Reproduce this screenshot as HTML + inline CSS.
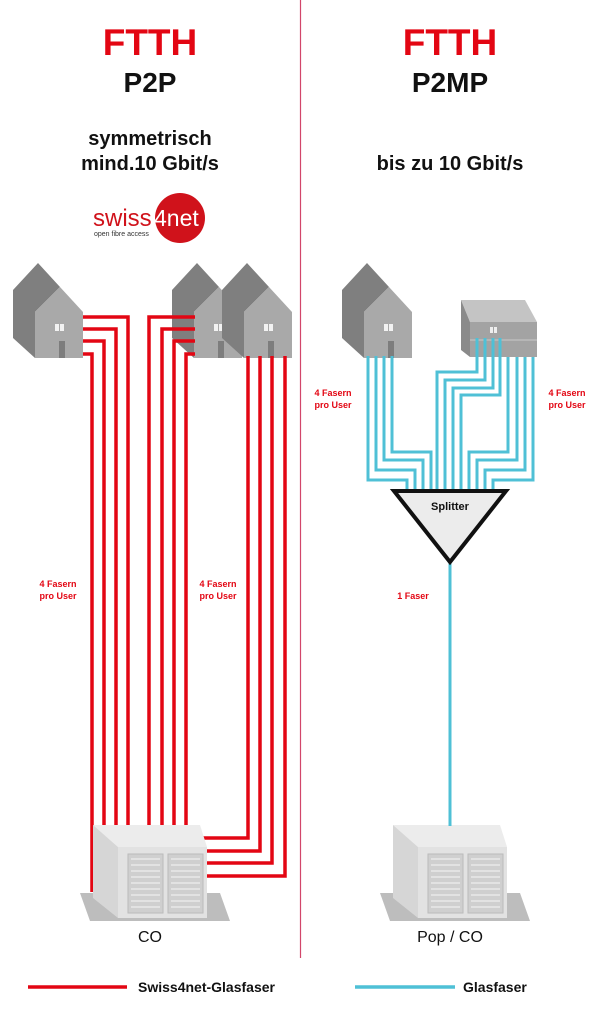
<!DOCTYPE html>
<html><head><meta charset="utf-8"><style>
html,body{margin:0;padding:0;background:#fff;}
svg{display:block;}
text{font-family:"Liberation Sans",sans-serif;}
</style></head><body>
<svg width="600" height="1012" viewBox="0 0 600 1012" xmlns="http://www.w3.org/2000/svg">
<defs>
<g id="house">
  <polygon points="0,28 25,1 47,25 22,50 22,96 0,76" fill="#7f7f7f"/>
  <polygon points="22,50 47,25 70,50 70,96 22,96" fill="#a9a9a9"/>
  <rect x="42" y="62" width="4" height="7" fill="#f2f2f2"/><rect x="47" y="62" width="4" height="7" fill="#f2f2f2"/>
  <rect x="46" y="79" width="6" height="17" fill="#7d7d7d"/>
</g>
<g id="co">
  <polygon points="-70,68 70,68 80,96 -60,96" fill="#bdbdbd"/>
  <polygon points="-57,0 50,0 57,22 -32,22" fill="#ececec"/>
  <polygon points="-57,0 -32,22 -32,93 -57,73" fill="#d6d6d6"/>
  <rect x="-32" y="22" width="89" height="71" fill="#e2e2e2"/>
  <rect x="-22" y="29" width="35" height="59" fill="#cfcfcf" stroke="#bbb"/>
  <rect x="18" y="29" width="35" height="59" fill="#cfcfcf" stroke="#bbb"/>
  <g stroke="#f4f4f4" stroke-width="1">
    <line x1="-19" y1="34" x2="10" y2="34"/><line x1="-19" y1="40" x2="10" y2="40"/><line x1="-19" y1="46" x2="10" y2="46"/><line x1="-19" y1="52" x2="10" y2="52"/><line x1="-19" y1="58" x2="10" y2="58"/><line x1="-19" y1="64" x2="10" y2="64"/><line x1="-19" y1="70" x2="10" y2="70"/><line x1="-19" y1="76" x2="10" y2="76"/><line x1="-19" y1="82" x2="10" y2="82"/>
    <line x1="21" y1="34" x2="50" y2="34"/><line x1="21" y1="40" x2="50" y2="40"/><line x1="21" y1="46" x2="50" y2="46"/><line x1="21" y1="52" x2="50" y2="52"/><line x1="21" y1="58" x2="50" y2="58"/><line x1="21" y1="64" x2="50" y2="64"/><line x1="21" y1="70" x2="50" y2="70"/><line x1="21" y1="76" x2="50" y2="76"/><line x1="21" y1="82" x2="50" y2="82"/>
  </g>
</g>
</defs>

<line x1="300.5" y1="0" x2="300.5" y2="958" stroke="#d2466a" stroke-width="1.2"/>

<text x="150" y="55" text-anchor="middle" font-size="37" font-weight="bold" fill="#e30613">FTTH</text>
<text x="150" y="92" text-anchor="middle" font-size="28" font-weight="bold" fill="#111">P2P</text>
<text x="150" y="145" text-anchor="middle" font-size="20" font-weight="bold" fill="#111">symmetrisch</text>
<text x="150" y="170" text-anchor="middle" font-size="20" font-weight="bold" fill="#111">mind.10 Gbit/s</text>
<text x="450" y="55" text-anchor="middle" font-size="37" font-weight="bold" fill="#e30613">FTTH</text>
<text x="450" y="92" text-anchor="middle" font-size="28" font-weight="bold" fill="#111">P2MP</text>
<text x="450" y="170" text-anchor="middle" font-size="20" font-weight="bold" fill="#111">bis zu 10 Gbit/s</text>

<circle cx="180" cy="218" r="25" fill="#d0121b"/>
<text x="93" y="226" font-size="24" fill="#d0121b">swiss</text>
<text x="154" y="226" font-size="23" fill="#fff">4net</text>
<text x="94" y="236" font-size="7" fill="#333">open fibre access</text>

<use href="#house" x="13" y="262"/>
<use href="#house" x="172" y="262"/>
<use href="#house" x="222" y="262"/>

<g fill="none" stroke="#e30613" stroke-width="3.5">
  <polyline points="83,317 128,317 128,826"/>
  <polyline points="83,329 116,329 116,826"/>
  <polyline points="83,341 104,341 104,826"/>
  <polyline points="83,354 92,354 92,892"/>
  <polyline points="195,317 149,317 149,826"/>
  <polyline points="195,329 162,329 162,826"/>
  <polyline points="195,341 174,341 174,826"/>
  <polyline points="195,354 186,354 186,826"/>
  <polyline points="248,356 248,838 198,838"/>
  <polyline points="260,356 260,851 207,851"/>
  <polyline points="272,356 272,863 207,863"/>
  <polyline points="285,356 285,876 207,876"/>
</g>
<use href="#co" x="150" y="825"/>
<use href="#co" x="450" y="825"/>

<text x="58" y="587" text-anchor="middle" font-size="9" font-weight="bold" fill="#e30613">4 Fasern</text>
<text x="58" y="599" text-anchor="middle" font-size="9" font-weight="bold" fill="#e30613">pro User</text>
<text x="218" y="587" text-anchor="middle" font-size="9" font-weight="bold" fill="#e30613">4 Fasern</text>
<text x="218" y="599" text-anchor="middle" font-size="9" font-weight="bold" fill="#e30613">pro User</text>

<use href="#house" x="342" y="262"/>
<polygon points="461,300 525,300 537,322 470,322" fill="#c4c4c4"/>
<polygon points="461,300 470,322 470,357 461,350" fill="#8a8a8a"/>
<rect x="470" y="322" width="67" height="35" fill="#a3a3a3"/>
<line x1="470" y1="340" x2="537" y2="340" stroke="#c9c9c9"/>
<rect x="490" y="327" width="3" height="6" fill="#eee"/><rect x="494" y="327" width="3" height="6" fill="#eee"/>

<g fill="none" stroke="#4fc0d6" stroke-width="3">
  <polyline points="368,356 368,480 407,480 407,490"/>
  <polyline points="376,356 376,470 415,470 415,490"/>
  <polyline points="384,356 384,460 423,460 423,490"/>
  <polyline points="392,356 392,452 431,452 431,490"/>
  <polyline points="477,338 477,372 437,372 437,490"/>
  <polyline points="485,338 485,380 445,380 445,490"/>
  <polyline points="493,338 493,388 453,388 453,490"/>
  <polyline points="500,338 500,395 461,395 461,490"/>
  <polyline points="508,357 508,452 469,452 469,490"/>
  <polyline points="517,357 517,460 477,460 477,490"/>
  <polyline points="525,357 525,470 485,470 485,490"/>
  <polyline points="533,357 533,480 493,480 493,490"/>
  <line x1="450" y1="560" x2="450" y2="826"/>
</g>
<polygon points="394,491 506,491 450,562" fill="#ececec" stroke="#111" stroke-width="4" stroke-linejoin="miter"/>
<text x="450" y="510" text-anchor="middle" font-size="11" font-weight="bold" fill="#111">Splitter</text>

<text x="333" y="396" text-anchor="middle" font-size="9" font-weight="bold" fill="#e30613">4 Fasern</text>
<text x="333" y="408" text-anchor="middle" font-size="9" font-weight="bold" fill="#e30613">pro User</text>
<text x="567" y="396" text-anchor="middle" font-size="9" font-weight="bold" fill="#e30613">4 Fasern</text>
<text x="567" y="408" text-anchor="middle" font-size="9" font-weight="bold" fill="#e30613">pro User</text>
<text x="413" y="599" text-anchor="middle" font-size="9" font-weight="bold" fill="#e30613">1 Faser</text>

<text x="150" y="942" text-anchor="middle" font-size="16" fill="#111">CO</text>
<text x="450" y="942" text-anchor="middle" font-size="16" fill="#111">Pop / CO</text>

<line x1="28" y1="987" x2="127" y2="987" stroke="#e30613" stroke-width="3.5"/>
<text x="138" y="992" font-size="14" font-weight="bold" fill="#111">Swiss4net-Glasfaser</text>
<line x1="355" y1="987" x2="455" y2="987" stroke="#4fc0d6" stroke-width="3.5"/>
<text x="463" y="992" font-size="14" font-weight="bold" fill="#111">Glasfaser</text>
</svg>
</body></html>
